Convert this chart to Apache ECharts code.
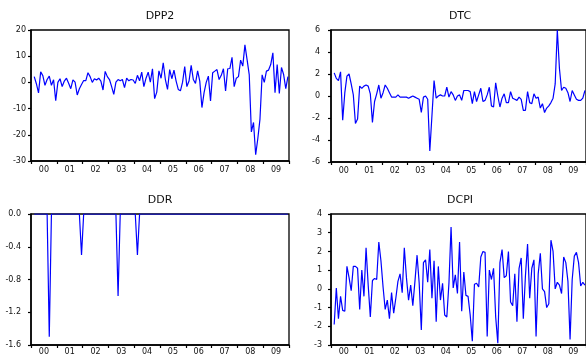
<!DOCTYPE html>
<html><head><meta charset="utf-8">
<script src="https://cdn.jsdelivr.net/npm/echarts@6/dist/echarts.min.js"></script>
<style>html,body{margin:0;padding:0;background:#fff;overflow:hidden}#c{width:586px;height:356px}</style>
</head><body><div id="c"></div>
<script>
const years = ['00','01','02','03','04','05','06','07','08','09'];
const titles = ['DPP2','DTC','DDR','DCPI'];
const dpp2 = [2.2,-0.5,-4,4,2.6,-1.1,1.1,2.4,-1.1,1,
 -7,0,1.4,-1.6,0.5,1.6,-0.3,-2.4,1,0.1,
 -4.8,-2.4,-0.8,0.7,0.7,3.7,2.2,0,1.4,0.9,
 1.6,0.5,-2.9,4.2,2.2,1.1,-1.6,-4.6,0.1,1.1,
 0.6,1.1,-2,1.6,0.6,1.1,0.9,-0.4,2.7,0.6,
 3.9,-1.6,1.6,3.9,0.1,5.2,-6.2,-3.7,4.4,1.6,
 7.5,1.1,-2.7,4.9,1.4,4.7,0.5,-2.7,-3.2,0.1,
 6,-1.6,0.5,6.5,1.1,-0.4,4.4,0.5,-9.6,-3.9,
 0,2.4,-7.1,3.7,4.3,4.9,1.1,2.7,5.2,-3.3,
 5.2,5.3,9.6,-1.6,1.6,2.2,8.5,6.2,14.3,8.7,
 3,-18.9,-15.3,-27.6,-21.4,-14,2.9,0,4.3,4.7,
 6.8,11.3,-3.9,6.8,-4.2,5.7,3,-2.4,2.2];
const dtc = [2.1,1.6,1.4,2.2,-2.2,0.3,1.8,2,1.1,0.1,
 -2.5,-2.1,0.9,0.7,0.9,1,0.9,0.2,-2.4,-0.5,
 0.2,1,-0.2,0.3,1,0.7,0.3,-0.1,-0.1,-0.1,
 0.1,-0.1,-0.1,-0.1,-0.1,-0.2,-0.1,0,-0.1,-0.2,
 -0.3,-1.5,-0.1,0,-0.3,-5,-1.8,1.4,-0.2,0,
 0.1,0,0,0.8,-0.1,0.4,0.1,-0.4,0,0.1,
 -0.4,0.5,0.5,0.5,0.4,-0.7,0.4,-0.5,0.1,0.7,
 -0.5,-0.4,0.1,0.8,-0.9,-1,1.2,0,-1,-0.2,
 0.2,-0.6,-0.6,0.4,-0.2,-0.3,-0.4,-0.1,-0.3,-1.3,
 -1.3,0.4,-0.6,-0.7,0.2,-0.2,-0.1,-1.1,-0.7,-1.5,
 -1.1,-0.9,-0.6,-0.2,1.1,6,2.5,0.5,0.8,0.7,
 0.3,-0.5,0.5,0.1,-0.3,-0.4,-0.4,-0.2,0.5];
const ddr = [0,0,0,0,0,0,0,-1.5,0,0,
 0,0,0,0,0,0,0,0,0,0,
 0,0,-0.5,0,0,0,0,0,0,0,
 0,0,0,0,0,0,0,0,0,-1.0,
 0,0,0,0,0,0,0,0,-0.5,0,
 0,0,0,0,0,0,0,0,0,0,
 0,0,0,0,0,0,0,0,0,0,
 0,0,0,0,0,0,0,0,0,0,
 0,0,0,0,0,0,0,0,0,0,
 0,0,0,0,0,0,0,0,0,0,
 0,0,0,0,0,0,0,0,0,0,
 0,0,0,0,0,0,0,0,0];
const dcpi = [-1.9,0.05,-1.6,-0.4,-1.15,-1.2,1.2,0.6,-0.1,1.2,
 1.2,1.1,-1.1,1,-0.4,2.2,0.2,-1.5,0.45,0.55,
 0.5,2.5,1.5,0.1,-1.1,-0.6,-1.6,-0.2,-1.3,-0.5,
 0.4,0.8,-0.2,2.2,0.6,-0.6,0.2,-0.9,0.4,1.8,
 0.3,-2.2,1.4,1.55,0.35,2.1,-0.5,1.5,-1.75,1.2,
 -0.6,0.3,-1.4,-1.5,0.3,3.3,0.05,0.75,-0.25,2.5,
 -1.2,0.9,-0.35,-0.4,-1.4,-2.8,0.25,0.3,0.1,1.7,
 2,1.95,-2.55,1,0.5,1.1,-1.5,-2.9,1.4,2.1,
 0.6,0.7,2,-0.7,-0.9,0.8,-1.75,1.1,1.65,-1.6,
 0.7,2.4,-0.5,1.1,1.55,-2.55,0.8,1.9,0,-0.15,
 -1,-0.8,2.6,2,0,0.35,0.2,-0.25,1.7,1.4,
 0.4,-2.7,0.5,1.75,1.95,1.4,0.15,0.35,0.2];
const seriesData = [dpp2, dtc, ddr, dcpi];
const yRanges = [[-30,20,10],[-6,6,2],[-1.6,0,0.4],[-3,4,1]];
const grids = [
 {left:31, top:30, width:258, height:131},
 {left:331, top:30, width:258, height:132},
 {left:31, top:214, width:258, height:132},
 {left:331, top:214, width:258, height:131}
];
const yLabelMargin = [5, 11, 10, 9];
const xLabelMargin = [5, 5, 3, 3];
const titlePos = [[160,16],[460,16],[160,200],[460,200]];

const font = 'DejaVu Sans';
const option = {
  animation:false,
  backgroundColor:'#fff',
  grid: grids.map(g=>Object.assign({show:true, borderColor:'#000', borderWidth:1.3, containLabel:false}, g)),
  xAxis: [],
  yAxis: [],
  series: [],
  graphic: titles.map((t,i)=>({type:'text', x:titlePos[i][0], y:titlePos[i][1],
     style:{text:t, font:'11px "'+font+'"', fill:'#111', textAlign:'center', textVerticalAlign:'middle'}}))
};
for (let i=0;i<4;i++){
  option.xAxis.push({type:'category', gridIndex:i, data:years, boundaryGap:true,
    axisLine:{show:true, onZero:false, lineStyle:{color:'#000', width:1.5}},
    axisTick:{show:true, inside:false, length:3, lineStyle:{color:'#000', width:1.2}},
    axisLabel:{show:true, margin:xLabelMargin[i], fontFamily:font, fontSize:8, color:'#111', interval:0},
    splitLine:{show:false}});
  option.xAxis.push({type:'value', gridIndex:i, min:0, max:120, show:false});
  option.yAxis.push({type:'value', gridIndex:i, min:yRanges[i][0], max:yRanges[i][1], interval:yRanges[i][2],
    axisLine:{show:true, onZero:false, lineStyle:{color:'#000', width:1.5}},
    axisTick:{show:true, inside:false, length:3, lineStyle:{color:'#000', width:1.2}},
    axisLabel:{margin:yLabelMargin[i], fontFamily:font, fontSize:8, color:'#111',
      formatter: i===2 ? (v=>(Math.abs(v)<1e-9?0:v).toFixed(1)) : (v=>String(Math.round(v)))},
    splitLine:{show:false}});
  option.series.push({type:'line', xAxisIndex:2*i+1, yAxisIndex:i, showSymbol:false, symbol:'none',
    lineStyle:{color:'#0000ff', width:1.2}, clip:true,
    data: seriesData[i].map((v,k)=>[k+1.5, v])});
}
const chart = echarts.init(document.getElementById('c'), null, {renderer:'canvas'});
chart.setOption(option);
</script>
</body></html>
